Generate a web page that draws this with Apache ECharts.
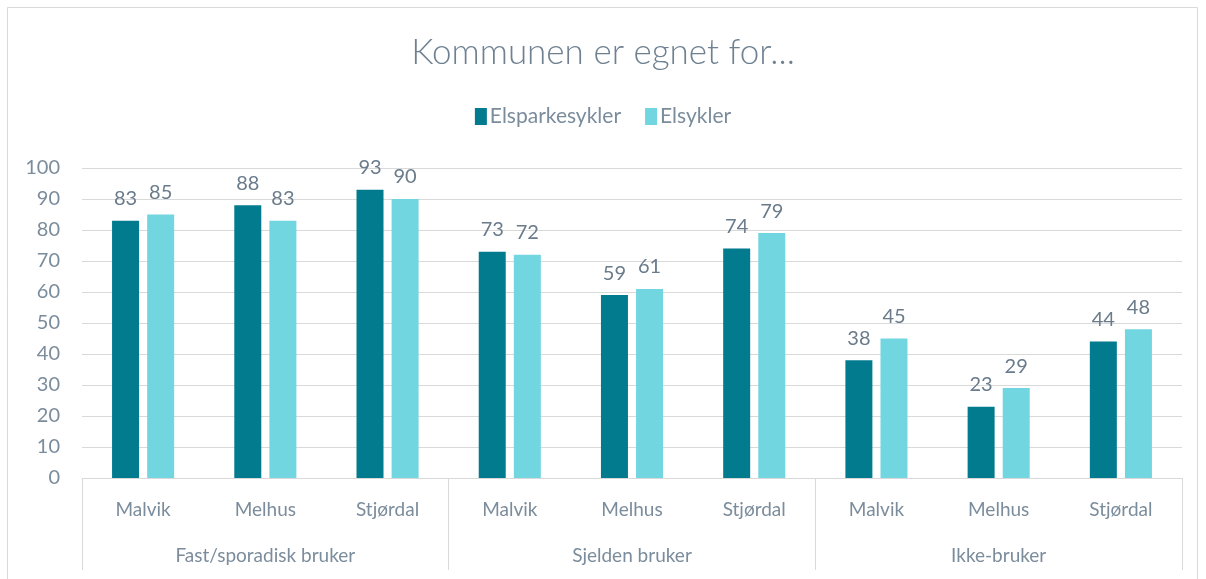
<!DOCTYPE html>
<html>
<head>
<meta charset="utf-8">
<script src="https://cdn.jsdelivr.net/npm/echarts@6/dist/echarts.min.js"></script>
<style>
  html, body { margin: 0; padding: 0; background: #fff; }
  #chart { width: 1206px; height: 579px; }
</style>
</head>
<body>
<div id="chart"></div>
<script>
var kommuner = ['Malvik', 'Melhus', 'Stjørdal', 'Malvik', 'Melhus', 'Stjørdal', 'Malvik', 'Melhus', 'Stjørdal'];
var grupper = ['Fast/sporadisk bruker', 'Sjelden bruker', 'Ikke-bruker'];
var elsparkesykler = [83, 88, 93, 73, 59, 74, 38, 23, 44];
var elsykler = [85, 83, 90, 72, 61, 79, 45, 29, 48];

var font = 'Lato, "Open Sans", sans-serif';
var textColor = '#7b8c9c';

var chart = echarts.init(document.getElementById('chart'));
chart.setOption({
  animation: false,
  textStyle: { fontFamily: font },
  title: {
    text: 'Kommunen er egnet for...',
    left: 'center', top: 30,
    textStyle: { fontFamily: font, fontSize: 35, fontWeight: 300, color: '#6f8191' }
  },
  legend: {
    top: 101, left: 'center',
    itemWidth: 12, itemHeight: 17, itemGap: 24,
    icon: 'rect',
    textStyle: { fontFamily: font, fontSize: 21, color: textColor, padding: [0, 0, 0, -2] },
    data: ['Elsparkesykler', 'Elsykler']
  },
  graphic: [{
    type: 'rect', silent: true,
    shape: { x: 7.5, y: 7.5, width: 1190, height: 600 },
    style: { fill: 'none', stroke: '#d9d9d9', lineWidth: 1 }
  }],
  grid: { left: 82, right: 24, top: 168, bottom: 101 },
  xAxis: [{
    type: 'category',
    data: kommuner,
    axisLine: { show: false },
    axisTick: { show: false },
    axisLabel: { fontFamily: font, fontSize: 19, color: textColor, margin: 22, interval: 0 }
  }, {
    type: 'category',
    data: grupper,
    position: 'bottom',
    axisLine: { show: true, lineStyle: { color: '#d9d9d9' } },
    axisTick: { show: true, length: 92, lineStyle: { color: '#d9d9d9' } },
    axisLabel: { fontFamily: font, fontSize: 19, color: textColor, margin: 68 }
  }],
  yAxis: {
    type: 'value', min: 0, max: 100, interval: 10,
    axisLine: { show: false },
    axisTick: { show: false },
    axisLabel: { fontFamily: font, fontSize: 20, color: textColor, margin: 22 },
    splitLine: { lineStyle: { color: '#d9d9d9', width: 1 } }
  },
  series: [{
    name: 'Elsparkesykler', type: 'bar', xAxisIndex: 0,
    data: elsparkesykler,
    barWidth: 27, barGap: '30%',
    itemStyle: { color: '#027b8f' },
    label: { show: true, position: 'top', distance: 12, fontFamily: font, fontSize: 20, color: '#6a7b8b' }
  }, {
    name: 'Elsykler', type: 'bar', xAxisIndex: 0,
    data: elsykler,
    barWidth: 27,
    itemStyle: { color: '#72d6e1' },
    label: { show: true, position: 'top', distance: 12, fontFamily: font, fontSize: 20, color: '#6a7b8b' }
  }]
});
</script>
</body>
</html>
